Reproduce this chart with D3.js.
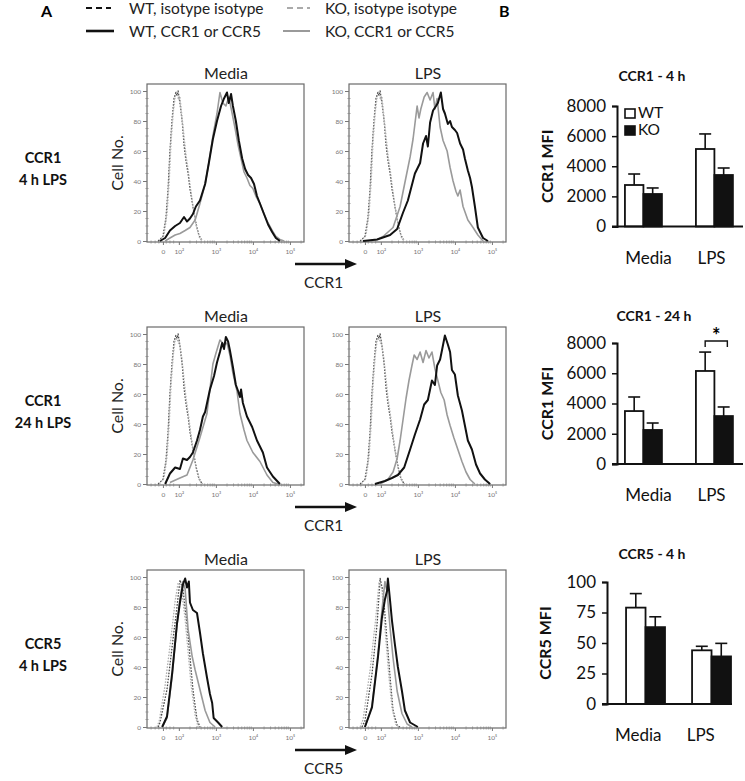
<!DOCTYPE html>
<html><head><meta charset="utf-8">
<script src="https://cdn.jsdelivr.net/npm/d3@7"></script>
<style>
body{margin:0;background:#fff}
svg{display:block}
text{font-family:Lato,"Open Sans",sans-serif}
</style>
</head><body>
<svg id="c" width="745" height="781"></svg>
<script>
// ---------------- DATA ----------------
// Histogram x values are in decades (log10 of fluorescence), y in % of max (Cell No.)
const xTickVals = [1.57, 2, 3, 4, 5];
const xTickLabels = ["0", "10\u00B2", "10\u00B3", "10\u2074", "10\u2075"];
const yTickVals = [0, 20, 40, 60, 80, 100];

// Row 1 (CCR1, 4 h) - Media
const r1mWtIso = [[1.44,0],[1.57,3],[1.65,15],[1.71,35],[1.76,60],[1.82,82],[1.87,95],[1.92,99],[1.95,97],[1.98,100],[2.03,92],[2.09,80],[2.14,64],[2.19,54],[2.25,45],[2.30,35],[2.38,23],[2.46,12],[2.54,4],[2.63,0]];
const r1mKoIso = [[1.47,0],[1.60,4],[1.68,18],[1.74,40],[1.79,66],[1.85,86],[1.90,96],[1.95,100],[1.99,94],[2.03,96],[2.08,84],[2.14,70],[2.20,56],[2.26,46],[2.32,34],[2.40,20],[2.48,9],[2.56,2],[2.65,0]];
const r1mWt = [[1.49,0],[1.63,2],[1.76,7],[1.90,10],[2.03,12],[2.14,16],[2.22,13],[2.30,15],[2.38,18],[2.46,23],[2.57,27],[2.71,38],[2.81,52],[2.92,68],[3.03,80],[3.14,90],[3.22,95],[3.30,99],[3.35,92],[3.41,98],[3.46,90],[3.54,80],[3.62,67],[3.71,55],[3.79,48],[3.87,44],[3.95,42],[4.03,38],[4.11,30],[4.19,25],[4.30,18],[4.41,11],[4.52,6],[4.62,2],[4.73,0]];
const r1mKo = [[1.63,0],[1.76,2],[1.90,4],[2.03,5],[2.17,7],[2.30,9],[2.44,14],[2.57,25],[2.71,38],[2.81,52],[2.92,70],[3.03,85],[3.11,99],[3.19,92],[3.27,90],[3.35,96],[3.44,85],[3.52,75],[3.60,64],[3.68,55],[3.76,46],[3.84,42],[3.92,37],[4.00,35],[4.08,30],[4.19,25],[4.30,18],[4.41,12],[4.52,7],[4.62,3],[4.73,1],[4.84,0]];

// Row 1 - LPS
const r1lWtIso = [[1.44,0],[1.57,3],[1.65,15],[1.71,35],[1.76,60],[1.82,82],[1.87,95],[1.92,99],[1.95,97],[1.98,100],[2.03,92],[2.09,80],[2.14,64],[2.19,54],[2.25,45],[2.30,35],[2.38,23],[2.46,12],[2.54,4],[2.63,0]];
const r1lKoIso = [[1.47,0],[1.60,4],[1.68,18],[1.74,40],[1.79,66],[1.85,86],[1.90,96],[1.95,100],[1.99,94],[2.03,96],[2.08,84],[2.14,70],[2.20,56],[2.26,46],[2.32,34],[2.40,20],[2.48,9],[2.56,2],[2.65,0]];
const r1lWt = [[1.52,0],[1.90,1],[2.25,4],[2.44,8],[2.60,19],[2.73,27],[2.92,45],[3.06,52],[3.14,65],[3.22,70],[3.27,63],[3.33,79],[3.41,87],[3.49,90],[3.54,92],[3.62,99],[3.68,88],[3.73,85],[3.81,78],[3.87,80],[3.92,76],[4.00,74],[4.06,72],[4.14,65],[4.22,61],[4.27,55],[4.35,47],[4.41,42],[4.46,36],[4.54,23],[4.62,9],[4.76,2],[4.89,0]];
const r1lKo = [[1.71,0],[1.90,1],[2.06,3],[2.33,9],[2.52,23],[2.65,39],[2.79,56],[2.87,68],[2.92,78],[2.98,90],[3.03,82],[3.08,88],[3.17,96],[3.25,99],[3.33,94],[3.41,99],[3.46,88],[3.52,95],[3.60,76],[3.68,67],[3.79,60],[3.87,49],[3.95,40],[4.03,33],[4.08,30],[4.14,34],[4.22,23],[4.35,14],[4.49,9],[4.62,4],[4.76,0]];

// Row 2 (CCR1, 24 h) - Media
const r2mWtIso = [[1.44,0],[1.57,3],[1.65,15],[1.71,35],[1.76,60],[1.82,82],[1.87,95],[1.92,99],[1.95,97],[1.98,100],[2.03,92],[2.09,80],[2.14,64],[2.19,54],[2.25,45],[2.30,35],[2.38,23],[2.46,12],[2.54,4],[2.63,0]];
const r2mKoIso = [[1.47,0],[1.60,4],[1.68,18],[1.74,40],[1.79,66],[1.85,86],[1.90,96],[1.95,97],[1.99,94],[2.03,93],[2.08,84],[2.14,70],[2.20,56],[2.26,46],[2.32,34],[2.40,20],[2.48,9],[2.56,2],[2.65,0]];
const r2mWt = [[1.63,0],[1.76,7],[1.90,11],[2.03,10],[2.11,17],[2.22,16],[2.30,18],[2.38,21],[2.49,29],[2.57,36],[2.65,45],[2.71,48],[2.84,63],[2.95,72],[3.03,81],[3.11,88],[3.17,94],[3.22,90],[3.27,98],[3.33,95],[3.38,89],[3.46,78],[3.54,66],[3.60,62],[3.65,58],[3.68,63],[3.73,54],[3.84,45],[3.98,38],[4.11,29],[4.27,21],[4.38,11],[4.54,5],[4.73,0]];
const r2mKo = [[1.76,1],[2.03,4],[2.22,6],[2.38,16],[2.57,31],[2.76,47],[2.92,80],[3.00,87],[3.11,96],[3.22,93],[3.30,94],[3.38,86],[3.46,74],[3.57,62],[3.65,47],[3.76,36],[3.84,29],[4.00,21],[4.19,15],[4.38,6],[4.54,1],[4.68,0]];

// Row 2 - LPS
const r2lWtIso = [[1.44,0],[1.57,3],[1.65,15],[1.71,35],[1.76,60],[1.82,82],[1.87,95],[1.92,99],[1.95,97],[1.98,100],[2.03,92],[2.09,80],[2.14,64],[2.19,54],[2.25,45],[2.30,35],[2.38,23],[2.46,12],[2.54,4],[2.63,0]];
const r2lKoIso = [[1.47,0],[1.60,4],[1.68,18],[1.74,40],[1.79,66],[1.85,86],[1.90,96],[1.95,97],[1.99,94],[2.03,93],[2.08,84],[2.14,70],[2.20,56],[2.26,46],[2.32,34],[2.40,20],[2.48,9],[2.56,2],[2.65,0]];
const r2lWt = [[1.84,0],[2.11,2],[2.30,4],[2.46,6],[2.63,11],[2.79,23],[2.92,33],[3.06,43],[3.17,53],[3.27,56],[3.38,69],[3.46,66],[3.52,79],[3.60,83],[3.65,89],[3.73,99],[3.81,93],[3.87,88],[3.92,76],[4.00,73],[4.08,59],[4.19,49],[4.27,39],[4.35,29],[4.46,23],[4.57,13],[4.68,7],[4.81,3],[4.95,0]];
const r2lKo = [[1.98,0],[2.19,3],[2.33,8],[2.44,17],[2.52,29],[2.60,43],[2.68,57],[2.76,69],[2.84,79],[2.90,86],[2.98,83],[3.06,88],[3.14,81],[3.22,89],[3.30,84],[3.38,88],[3.46,77],[3.54,69],[3.62,61],[3.71,56],[3.79,46],[3.87,39],[3.97,31],[4.08,23],[4.19,15],[4.30,8],[4.41,3],[4.54,0]];

// Row 3 (CCR5, 4 h) - Media
const r3mWtIso = [[1.44,0],[1.49,3],[1.68,25],[1.84,58],[1.95,80],[2.03,98],[2.11,92],[2.22,69],[2.30,47],[2.38,25],[2.49,5],[2.57,0]];
const r3mKoIso = [[1.41,0],[1.47,4],[1.63,28],[1.79,60],[1.90,84],[1.98,96],[2.06,94],[2.17,72],[2.25,50],[2.33,28],[2.44,8],[2.52,0]];
const r3mWt = [[1.55,0],[1.68,7],[1.82,36],[1.95,69],[2.03,83],[2.11,95],[2.17,99],[2.22,93],[2.27,97],[2.30,83],[2.38,78],[2.49,76],[2.57,63],[2.65,49],[2.76,33],[2.84,22],[2.90,16],[2.94,6],[3.06,3],[3.17,0]];
const r3mKo = [[1.55,0],[1.68,6],[1.82,34],[1.95,68],[2.03,85],[2.11,97],[2.17,92],[2.25,65],[2.36,47],[2.44,38],[2.57,25],[2.71,11],[2.84,3],[2.98,0]];

// Row 3 - LPS
const r3lWtIso = [[1.49,0],[1.57,4],[1.76,35],[1.90,69],[1.98,99],[2.06,90],[2.17,57],[2.25,33],[2.33,11],[2.44,1],[2.52,0]];
const r3lKoIso = [[1.44,0],[1.52,5],[1.71,38],[1.86,72],[1.95,96],[2.03,92],[2.13,60],[2.21,36],[2.30,13],[2.40,2],[2.48,0]];
const r3lWt = [[1.57,0],[1.76,13],[1.92,46],[2.03,73],[2.11,85],[2.17,91],[2.19,99],[2.25,84],[2.30,71],[2.38,55],[2.46,40],[2.57,24],[2.65,11],[2.79,3],[3.00,0]];
const r3lKo = [[1.57,0],[1.76,14],[1.92,48],[2.03,78],[2.11,97],[2.17,90],[2.25,66],[2.33,46],[2.44,24],[2.57,9],[2.71,2],[2.84,0]];

// Bar charts (B)
const barCategories = ["Media", "LPS"];
const barGroups = ["WT", "KO"];
const ccr1h4Wt = [2755, 5145], ccr1h4WtErr = [730, 1000];
const ccr1h4Ko = [2158, 3419], ccr1h4KoErr = [400, 465];
const ccr1h24Wt = [3500, 6150], ccr1h24WtErr = [930, 1250];
const ccr1h24Ko = [2250, 3170], ccr1h24KoErr = [460, 600];
const ccr5h4Wt = [79, 44], ccr5h4WtErr = [11.5, 3.3];
const ccr5h4Ko = [63, 39], ccr5h4KoErr = [8.5, 10.7];
const ccr1Ticks = [0, 2000, 4000, 6000, 8000];
const ccr5Ticks = [0, 25, 50, 75, 100];

const legendLabels = ["WT, isotype isotype", "KO, isotype isotype", "WT, CCR1 or CCR5", "KO, CCR1 or CCR5"];
const rowLabels = [["CCR1", "4 h LPS"], ["CCR1", "24 h LPS"], ["CCR5", "4 h LPS"]];
const colTitles = ["Media", "LPS"];
const arrowLabels = ["CCR1", "CCR1", "CCR5"];

// ---------------- DRAW ----------------
const svg = d3.select("#c");
const styles = {
  wtIso: {stroke: "#4a4a4a", width: 1.3, dash: "1.6,1.4"},
  koIso: {stroke: "#b0b0b0", width: 1.3, dash: "1.6,1.4"},
  ko:    {stroke: "#9a9a9a", width: 1.6, dash: null},
  wt:    {stroke: "#111",    width: 2.0, dash: null}
};

// Legend
svg.append("text").attr("x", 41).attr("y", 17).attr("font-size", 16).attr("font-weight", "bold").text("A");
svg.append("text").attr("x", 499).attr("y", 17).attr("font-size", 16).attr("font-weight", "bold").text("B");
const legKeys = ["wtIso", "koIso", "wt", "ko"];
const legPos = [[86, 8], [287, 8], [86, 31], [283, 31]];
const legTextX = [129, 325, 129, 325];
legKeys.forEach((k, i) => {
  const st = styles[k];
  const isIso = k.includes("Iso");
  svg.append("line").attr("x1", legPos[i][0]).attr("x2", i % 2 ? 310 : (isIso ? 111 : 114))
    .attr("y1", legPos[i][1]).attr("y2", legPos[i][1])
    .attr("stroke", k === "wtIso" ? "#111" : (k === "koIso" ? "#aaa" : st.stroke))
    .attr("stroke-width", k === "wt" ? 2.6 : 2)
    .attr("stroke-dasharray", isIso ? "6,4" : null);
  svg.append("text").attr("x", legTextX[i]).attr("y", legPos[i][1] + 6).attr("font-size", 15.5).attr("fill", "#222").text(legendLabels[i]);
});

// Histogram panels
const panelData = [
  [r1mWtIso, r1mKoIso, r1mKo, r1mWt], [r1lWtIso, r1lKoIso, r1lKo, r1lWt],
  [r2mWtIso, r2mKoIso, r2mKo, r2mWt], [r2lWtIso, r2lKoIso, r2lKo, r2lWt],
  [r3mWtIso, r3mKoIso, r3mKo, r3mWt], [r3lWtIso, r3lKoIso, r3lKo, r3lWt]
];
const drawKeys = ["wtIso", "koIso", "ko", "wt"];
const colLeft = [147, 349], rowTop = [84, 327, 570], PW = 157;

for (let r = 0; r < 3; r++) {
  // row label
  rowLabels[r].forEach((t, j) => svg.append("text").attr("x", 43).attr("y", rowTop[r] + 79 + j * 22)
    .attr("text-anchor", "middle").attr("font-size", 14.5).attr("font-weight", "bold").attr("fill", "#111").text(t));
  for (let c = 0; c < 2; c++) {
    const left = colLeft[c], top = rowTop[r];
    const x = d3.scaleLinear().domain([1.14, 5.38]).range([left, left + PW]);
    const y = d3.scaleLinear().domain([0, 100]).range([top + 157, top + 7]);
    const g = svg.append("g");
    // frame
    g.append("rect").attr("x", left).attr("y", top).attr("width", PW).attr("height", 158)
      .attr("fill", "none").attr("stroke", "#6a6a6a").attr("stroke-width", 1.2);
    // title
    svg.append("text").attr("x", left + 79).attr("y", top - 5).attr("text-anchor", "middle")
      .attr("font-size", 16).attr("fill", "#222").text(colTitles[c]);
    // axes
    const xa = d3.axisBottom(x).tickValues(xTickVals).tickSize(3).tickPadding(4)
      .tickFormat((d, i) => xTickLabels[i]);
    const gx = g.append("g").attr("transform", `translate(0,${top + 158})`).call(xa);
    const ya = d3.axisLeft(y).tickValues(yTickVals).tickSize(4).tickPadding(2);
    const gy = g.append("g").attr("transform", `translate(${left},0)`).call(ya);
    [gx, gy].forEach(a => {
      a.select(".domain").remove();
      a.selectAll("line").attr("stroke", "#777");
      a.selectAll("text").attr("font-size", 6.5).attr("fill", "#777").attr("font-family", "Liberation Sans, Arial, sans-serif");
    });
    // minor ticks
    const minorX = [];
    for (let d = 2; d <= 5; d++) for (let k = 2; k <= 9; k++) { const v = d + Math.log10(k); if (v < 5.36) minorX.push(v); }
    [1.25, 1.36, 1.46, 1.66, 1.76, 1.86].forEach(v => minorX.push(v));
    g.selectAll(null).data(minorX).enter().append("line")
      .attr("x1", d => x(d)).attr("x2", d => x(d)).attr("y1", top + 156.5).attr("y2", top + 159.5)
      .attr("stroke", "#888").attr("stroke-width", 0.8);
    const minorY = d3.range(5, 100, 5).filter(v => v % 20);
    g.selectAll(null).data(minorY).enter().append("line")
      .attr("x1", left - 1.5).attr("x2", left + 1.5).attr("y1", d => y(d)).attr("y2", d => y(d))
      .attr("stroke", "#888").attr("stroke-width", 0.8);
    // curves
    const line = d3.line().x(d => x(d[0])).y(d => y(d[1]));
    panelData[r * 2 + c].forEach((ser, i) => {
      const st = styles[drawKeys[i]];
      g.append("path").datum(ser).attr("d", line).attr("fill", "none")
        .attr("stroke", st.stroke).attr("stroke-width", st.width)
        .attr("stroke-dasharray", st.dash).attr("stroke-linejoin", "round");
    });
    if (c === 0) {
      svg.append("text").attr("transform", `translate(${left - 24},${top + 79}) rotate(-90)`)
        .attr("text-anchor", "middle").attr("font-size", 16).attr("fill", "#222").text("Cell No.");
    }
  }
  // arrow
  const ay = rowTop[r] + 180;
  svg.append("line").attr("x1", 295).attr("x2", 347).attr("y1", ay).attr("y2", ay).attr("stroke", "#111").attr("stroke-width", 2.5);
  svg.append("path").attr("d", `M345,${ay - 5}L357,${ay}L345,${ay + 5}Z`).attr("fill", "#111");
  svg.append("text").attr("x", 304).attr("y", ay + 24).attr("font-size", 15.5).attr("fill", "#222").text(arrowLabels[r]);
}

// Bar charts
const barCharts = [
  {title: "CCR1 - 4 h", ylab: "CCR1 MFI", wt: ccr1h4Wt, wtE: ccr1h4WtErr, ko: ccr1h4Ko, koE: ccr1h4KoErr, ticks: ccr1Ticks,
   x0: 617, x1: 743, y0: 226.5, y1: 106, titleY: 81, titleX: 652, ylabX: 546, legend: true, sig: false, align: 0.44, pi: 0.479, po: 0.127},
  {title: "CCR1 - 24 h", ylab: "CCR1 MFI", wt: ccr1h24Wt, wtE: ccr1h24WtErr, ko: ccr1h24Ko, koE: ccr1h24KoErr, ticks: ccr1Ticks,
   x0: 617, x1: 743, y0: 464, y1: 343, titleY: 321, titleX: 654, ylabX: 546, legend: false, sig: true, align: 0.44, pi: 0.479, po: 0.127},
  {title: "CCR5 - 4 h", ylab: "CCR5 MFI", wt: ccr5h4Wt, wtE: ccr5h4WtErr, ko: ccr5h4Ko, koE: ccr5h4KoErr, ticks: ccr5Ticks,
   x0: 607, x1: 732, y0: 704, y1: 582, titleY: 559, titleX: 652, ylabX: 544, legend: false, sig: false, align: 0.95, pi: 0.41, po: 0.152}
];
barCharts.forEach(bc => {
  const g = svg.append("g");
  const maxV = bc.ticks[bc.ticks.length - 1];
  const y = d3.scaleLinear().domain([0, maxV]).range([bc.y0, bc.y1]);
  const xc = d3.scaleBand().domain(barCategories).range([bc.x0, bc.x1]).paddingInner(bc.pi).paddingOuter(bc.po).align(bc.align);
  const xg = d3.scaleBand().domain(barGroups).range([0, xc.bandwidth()]);
  const xl = d3.scaleBand().domain(barCategories).range([bc.x0, bc.x1]);
  g.append("text").attr("x", bc.titleX).attr("y", bc.titleY).attr("text-anchor", "middle")
    .attr("font-size", 14).attr("font-weight", "bold").attr("fill", "#111").text(bc.title);
  const vals = [bc.wt, bc.ko], errs = [bc.wtE, bc.koE];
  barGroups.forEach((gname, gi) => {
    barCategories.forEach((cat, ci) => {
      const bx = xc(cat) + xg(gname), bw = xg.bandwidth();
      const v = vals[gi][ci], e = errs[gi][ci];
      const cx = bx + bw / 2;
      g.append("line").attr("x1", cx).attr("x2", cx).attr("y1", y(v)).attr("y2", y(v + e)).attr("stroke", "#111").attr("stroke-width", 1.6);
      g.append("line").attr("x1", cx - 6).attr("x2", cx + 6).attr("y1", y(v + e)).attr("y2", y(v + e)).attr("stroke", "#111").attr("stroke-width", 1.6);
      g.append("rect").attr("x", bx).attr("y", y(v)).attr("width", bw).attr("height", y(0) - y(v))
        .attr("fill", gi === 0 ? "#fff" : "#111").attr("stroke", "#111").attr("stroke-width", 1.8);
    });
  });
  const ya = d3.axisLeft(y).tickValues(bc.ticks).tickSize(5).tickPadding(6).tickFormat(d3.format("d"));
  const gy = g.append("g").attr("transform", `translate(${bc.x0},0)`).call(ya);
  gy.select(".domain").attr("stroke", "#111").attr("stroke-width", 2);
  gy.selectAll(".tick line").attr("stroke", "#111").attr("stroke-width", 1.5);
  gy.selectAll("text").attr("font-size", 17).attr("fill", "#111").attr("font-family", "Lato, sans-serif");
  g.append("line").attr("x1", bc.x0 - 5).attr("x2", bc.x1).attr("y1", bc.y0).attr("y2", bc.y0).attr("stroke", "#111").attr("stroke-width", 2);
  barCategories.forEach(cat => g.append("text").attr("x", xl(cat) + xl.bandwidth() / 2).attr("y", bc.y0 + 37)
    .attr("text-anchor", "middle").attr("font-size", 17).attr("fill", "#111").text(cat));
  g.append("text").attr("transform", `translate(${bc.ylabX},${(bc.y0 + bc.y1) / 2}) rotate(-90)`)
    .attr("text-anchor", "middle").attr("dominant-baseline", "central").attr("font-size", 16).attr("font-weight", "bold").attr("fill", "#111").text(bc.ylab);
  if (bc.legend) {
    barGroups.forEach((gname, gi) => {
      g.append("rect").attr("x", 625).attr("y", y(maxV) + 3 + gi * 17).attr("width", 10).attr("height", 9)
        .attr("fill", gi === 0 ? "#fff" : "#111").attr("stroke", "#111").attr("stroke-width", 1.6);
      g.append("text").attr("x", 638).attr("y", y(maxV) + 12 + gi * 17).attr("font-size", 15.5).attr("fill", "#111").text(gname);
    });
  }
  if (bc.sig) {
    const lx = xc("LPS"), bw = xc.bandwidth();
    const x1 = lx + bw / 4, x2 = lx + bw * 0.85, sy = y(maxV) - 2;
    g.append("path").attr("d", `M${x1},${sy + 6}V${sy}H${x2}V${sy + 6}`).attr("fill", "none").attr("stroke", "#111").attr("stroke-width", 1.4);
    g.append("text").attr("x", (x1 + x2) / 2).attr("y", sy + 2).attr("text-anchor", "middle").attr("font-size", 20).attr("font-weight", "bold").text("*");
  }
});
</script>
</body></html>
